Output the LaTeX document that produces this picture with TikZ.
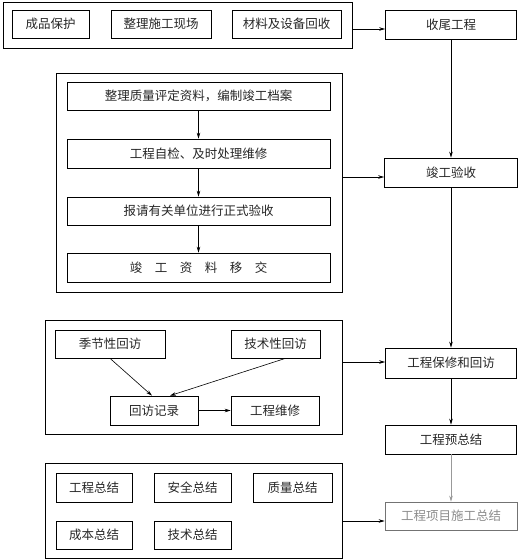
\documentclass[tikz,border=0pt]{standalone}
\usepackage{fontspec}
\setmainfont{Noto Sans CJK SC}
\usetikzlibrary{arrows.meta}
\begin{document}
\begin{tikzpicture}[x=1pt,y=-1pt,
  box/.style={draw=black, line width=0.7pt, inner sep=0pt, font=\fontsize{12.5}{14}\selectfont, text=black!85},
  grp/.style={draw=black, line width=0.8pt, inner sep=0pt},
  arr/.style={line width=0.6pt, -{Stealth[length=6pt,width=3.5pt]}},
  faded/.style={draw=black!55, text=black!45}
]
\useasboundingbox (0,0) rectangle (520,560);
% group 1
\node[grp, minimum width=349pt, minimum height=46pt] (g1) at (177.5,25) {};
\node[box, minimum width=77pt, minimum height=28pt] (a1) at (50.5,24) {成品保护};
\node[box, minimum width=100pt, minimum height=28pt] (a2) at (161,24) {整理施工现场};
\node[box, minimum width=109pt, minimum height=28pt] (a3) at (286.5,24) {材料及设备回收};
% right column
\node[box, minimum width=131pt, minimum height=29pt] (s1) at (451,24.5) {收尾工程};
\node[box, minimum width=133pt, minimum height=29pt] (s2) at (451,172.5) {竣工验收};
\node[box, minimum width=131pt, minimum height=30pt] (s3) at (451,363) {工程保修和回访};
\node[box, minimum width=131pt, minimum height=29pt] (s4) at (451,439.5) {工程预总结};
\node[box, faded, minimum width=132pt, minimum height=28pt] (s5) at (451,516) {工程项目施工总结};
% group 2
\node[grp, minimum width=286pt, minimum height=219pt] (g2) at (199,182.5) {};
\node[box, minimum width=263pt, minimum height=28pt] (b1) at (198.5,96) {整理质量评定资料，编制竣工档案};
\node[box, minimum width=263pt, minimum height=29pt] (b2) at (198.5,153.5) {工程自检、及时处理维修};
\node[box, minimum width=263pt, minimum height=28pt] (b3) at (198.5,211) {报请有关单位进行正式验收};
\node[box, minimum width=263pt, minimum height=29pt] (b4) at (198.5,267.5) {竣\quad 工\quad 资\quad 料\quad 移\quad 交};
% group 3
\node[grp, minimum width=297pt, minimum height=114pt] (g3) at (193.5,377) {};
\node[box, minimum width=110pt, minimum height=28pt] (c1) at (110,344) {季节性回访};
\node[box, minimum width=89pt, minimum height=28pt] (c2) at (275.5,344) {技术性回访};
\node[box, minimum width=88pt, minimum height=29pt] (c3) at (154,410.5) {回访记录};
\node[box, minimum width=88pt, minimum height=29pt] (c4) at (275,410.5) {工程维修};
% group 4
\node[grp, minimum width=297pt, minimum height=95pt] (g4) at (193.5,510.5) {};
\node[box, minimum width=76pt, minimum height=29pt] (d1) at (94,487.5) {工程总结};
\node[box, minimum width=77pt, minimum height=29pt] (d2) at (192.5,487.5) {安全总结};
\node[box, minimum width=79pt, minimum height=29pt] (d3) at (292.5,487.5) {质量总结};
\node[box, minimum width=76pt, minimum height=28pt] (d4) at (94,535) {成本总结};
\node[box, minimum width=77pt, minimum height=28pt] (d5) at (192.5,535) {技术总结};
% connectors
\draw[arr] ([yshift=-4pt]g1.east) -- ([yshift=-4pt]g1.east -| s1.west);
\draw[arr] (s1.south) -- (s2.north);
\draw[arr] (s2.south) -- (s3.north);
\draw[arr] (s3.south) -- (s4.north);
\draw[arr, draw=black!40] (s4.south) -- (s5.north);
\draw[arr] ([yshift=5.5pt]g2.east) -- ([yshift=5.5pt]g2.east -| s2.west);
\draw[arr] ([yshift=15pt]g3.east) -- ([yshift=15pt]g3.east -| s3.west);
\draw[arr] ([yshift=-10.5pt]g4.east) -- ([yshift=-10.5pt]g4.east -| s5.west);
\draw[arr] (b1.south) -- (b2.north);
\draw[arr] (b2.south) -- (b3.north);
\draw[arr] (b3.south) -- (b4.north);
\draw[arr] (c1.south) -- ([xshift=-2pt]c3.north);
\draw[arr] ([xshift=10pt]c2.south) -- ([xshift=16pt]c3.north);
\draw[arr] (c3.east) -- (c4.west);
\end{tikzpicture}
\end{document}
